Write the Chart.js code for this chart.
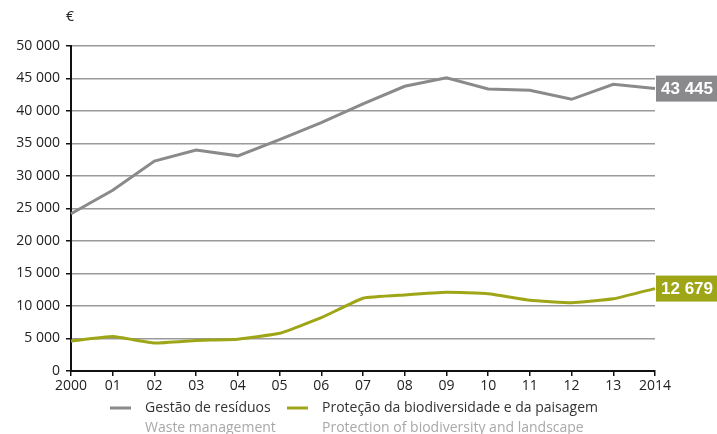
<!DOCTYPE html>
<html>
<head>
<meta charset="utf-8">
<script src="https://cdn.jsdelivr.net/npm/chart.js@4"></script>
<style>
  html, body { margin: 0; padding: 0; background: #fff; }
  #wrap { position: relative; width: 717px; height: 434px; }
</style>
</head>
<body>
<div id="wrap"><canvas id="chart" width="717" height="434"></canvas></div>
<script>
(function () {
    'use strict';

    var years = ['2000', '01', '02', '03', '04', '05', '06', '07', '08', '09', '10', '11', '12', '13', '2014'];
    var wasteValues = [24200, 27800, 32300, 34000, 33100, 35600, 38200, 41100, 43800, 45100, 43400, 43200, 41800, 44100, 43445];
    var bioValues = [4600, 5300, 4300, 4700, 4900, 5800, 8200, 11200, 11700, 12100, 11900, 10900, 10500, 11100, 12679];
    var yTicks = [0, 5000, 10000, 15000, 20000, 25000, 30000, 35000, 40000, 45000, 50000];

    var GREY = '#8a8a8c';
    var GREEN = '#9ea617';
    var FONT = '"Open Sans", "Noto Sans", sans-serif';

    function fmt(v) {
        return String(v).replace(/\B(?=(\d{3})+(?!\d))/g, ' ');
    }

    // value boxes at the end of each line, legend and euro sign
    var extras = {
        id: 'extras',
        afterDraw: function (chart) {
            var ctx = chart.ctx;
            var x = chart.scales.x;
            var y = chart.scales.y;
            var last = years.length - 1;
            var boxes = [
                { v: wasteValues[last], c: GREY },
                { v: bioValues[last], c: GREEN }
            ];
            ctx.save();
            boxes.forEach(function (b) {
                var px = x.getPixelForValue(last);
                var py = y.getPixelForValue(b.v);
                ctx.fillStyle = b.c;
                ctx.fillRect(px + 1, py - 13, 61, 26);
                ctx.fillStyle = '#fff';
                ctx.font = 'bold 17px "Liberation Sans", Arial, sans-serif';
                ctx.textAlign = 'center';
                ctx.textBaseline = 'middle';
                ctx.fillText(fmt(b.v), px + 32, py + 1);
            });

            ctx.fillStyle = '#222';
            ctx.font = '14px ' + FONT;
            ctx.textAlign = 'left';
            ctx.textBaseline = 'middle';
            ctx.fillText('€', 66, 17);

            var items = [
                { x: 110, c: GREY, pt: 'Gestão de resíduos', en: 'Waste management' },
                { x: 287, c: GREEN, pt: 'Proteção da biodiversidade e da paisagem', en: 'Protection of biodiversity and landscape' }
            ];
            items.forEach(function (it) {
                ctx.strokeStyle = it.c;
                ctx.lineWidth = 3;
                ctx.beginPath();
                ctx.moveTo(it.x, 408);
                ctx.lineTo(it.x + 21, 408);
                ctx.stroke();
                ctx.fillStyle = '#333';
                ctx.font = '14px ' + FONT;
                ctx.fillText(it.pt, it.x + 35, 408);
                ctx.fillStyle = '#a8a8a8';
                ctx.fillText(it.en, it.x + 35, 428);
            });
            ctx.restore();
        }
    };

    new Chart(document.getElementById('chart'), {
        type: 'line',
        data: {
            labels: years,
            datasets: [{
                label: 'Gestão de resíduos',
                data: wasteValues,
                borderColor: GREY,
                borderWidth: 3,
                pointRadius: 0,
                tension: 0
            }, {
                label: 'Proteção da biodiversidade e da paisagem',
                data: bioValues,
                borderColor: GREEN,
                borderWidth: 3,
                pointRadius: 0,
                tension: 0.12
            }]
        },
        options: {
            responsive: false,
            animation: false,
            layout: { padding: { top: 46, right: 62, left: 0, bottom: 0 } },
            plugins: {
                legend: { display: false },
                tooltip: { enabled: false }
            },
            scales: {
                x: {
                    offset: false,
                    afterFit: function (s) { s.height = 63; },
                    border: { color: '#111', width: 2 },
                    grid: { drawOnChartArea: false, tickLength: 5, tickColor: '#111', lineWidth: 1.5 },
                    ticks: { color: '#222', font: { family: FONT, size: 14 }, padding: 2, maxRotation: 0, autoSkip: false }
                },
                y: {
                    min: 0,
                    max: 50000,
                    afterFit: function (s) { s.width = 71; },
                    afterBuildTicks: function (s) {
                        s.ticks = yTicks.map(function (v) { return { value: v }; });
                    },
                    border: { color: '#111', width: 2 },
                    grid: { color: '#9a9a9a', lineWidth: 1.5, tickLength: 5, tickColor: '#111' },
                    ticks: {
                        color: '#222',
                        font: { family: FONT, size: 14 },
                        padding: 6,
                        callback: function (v) { return fmt(v); }
                    }
                }
            }
        },
        plugins: [extras]
    });
})();
</script>
</body>
</html>
